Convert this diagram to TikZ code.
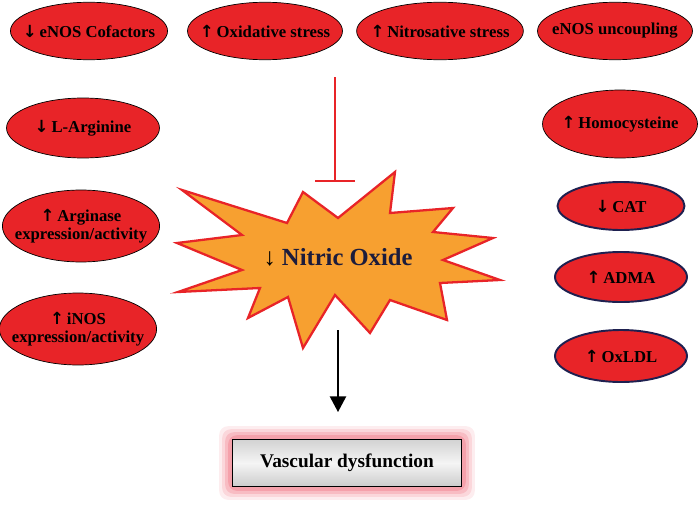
\documentclass[tikz,border=0pt]{standalone}
\usepackage{fontspec}
\setmainfont{Liberation Serif}
\newfontfamily\arrowfont{DejaVu Sans}
\newcommand{\incr}{{\arrowfont\bfseries ↑}}
\newcommand{\decr}{{\arrowfont\bfseries ↓}}
\usetikzlibrary{shapes.geometric,arrows.meta,backgrounds}
\definecolor{factred}{RGB}{232,36,40}
\definecolor{burstorange}{RGB}{247,160,48}
\definecolor{navyedge}{RGB}{30,32,80}
\definecolor{notext}{RGB}{28,28,60}
\definecolor{glowpink}{RGB}{240,110,125}
\begin{document}
\begin{tikzpicture}[x=0.02cm,y=-0.02cm,
  factor/.style={ellipse,draw=black,thin,fill=factred,inner xsep=-6pt,inner ysep=0pt,align=center,
    font=\bfseries\fontsize{9.5}{10.5}\selectfont,minimum width=3.1cm,minimum height=1.15cm},
  smallfactor/.style={factor,draw=navyedge,line width=1.1pt,minimum width=2.64cm,minimum height=1cm},
  burst/.style={fill=burstorange,draw=factred,line width=1.3pt,line join=miter},
  outcome/.style={rectangle,draw=black,thin,top color=gray!35,bottom color=gray!40,middle color=gray!8,
    minimum width=4.58cm,minimum height=0.94cm,font=\bfseries\fontsize{11}{12}\selectfont},
  inhibit/.style={draw=factred,line width=1.4pt,-{Bar[width=23pt,line width=1.4pt]}}]

  \useasboundingbox (0,0) rectangle (700,507);

  % causes of reduced NO
  \node (cof) at (89,31) [factor]{\decr\,eNOS Cofactors};
  \node (oxs) at (265,31) [factor]{\incr\,Oxidative stress};
  \node (nis) at (440,31) [factor]{\incr\,Nitrosative stress};
  \node (unc) at (615,31) [factor]{eNOS uncoupling};

  \node (arg) at (83,128) [factor,minimum width=3.06cm,minimum height=1.2cm]{\decr\,L-Arginine};
  \node (ase) at (81,226) [factor,minimum width=3.02cm,minimum height=1.44cm]{\incr\,Arginase\\expression/activity};
  \node (inos) at (78,329) [factor,minimum width=3.06cm,minimum height=1.44cm]{\incr\,iNOS\\expression/activity};

  \node (hcy) at (620,124) [factor,minimum height=1.36cm]{\incr\,Homocysteine};
  \node (cat) at (621,206) [smallfactor,minimum width=2.54cm,minimum height=0.96cm]{\decr\,CAT};
  \node (adma) at (621,277) [smallfactor]{\incr\,ADMA};
  \node (oxldl) at (621,356) [smallfactor,minimum height=1.04cm]{\incr\,OxLDL};

  % nitric oxide burst
  \draw[burst] (182,190) -- (287,223) -- (303,192) -- (338,218) -- (395,172) -- (390,213)
    -- (453,208) -- (433,232) -- (493,238) -- (443,260) -- (500,280) -- (440,283)
    -- (447,320) -- (390,300) -- (370,333) -- (335,295) -- (303,348) -- (288,297)
    -- (248,318) -- (260,288) -- (178,292) -- (242,270) -- (177,243) -- (242,235) -- cycle;
  \node (no) at (338,257) [font=\bfseries\fontsize{14}{16}\selectfont,text=notext]{{\mdseries\color{black}↓} Nitric Oxide};

  % outcome
  \node (vd) at (347,463) [outcome]{Vascular dysfunction};
  \begin{scope}[on background layer]
    \foreach \d/\o in {13/0.12,10/0.18,7/0.25,4/0.35}
      \fill[glowpink,opacity=\o,rounded corners=5pt] ([shift={(-\d,\d)}]vd.south west) rectangle ([shift={(\d,-\d)}]vd.north east);
  \end{scope}

  \coordinate (inh) at (335,77);
  \coordinate (inhend) at (335,182);
  \coordinate (out) at (338,330);

  \draw[inhibit] (inh) -- (inhend);

  \begin{scope}[>={Triangle[length=9pt,width=9pt]}]
    \draw[->,line width=1.7pt,shorten >=0.54cm] (out) -- (out |- vd.north);
  \end{scope}

\end{tikzpicture}
\end{document}
